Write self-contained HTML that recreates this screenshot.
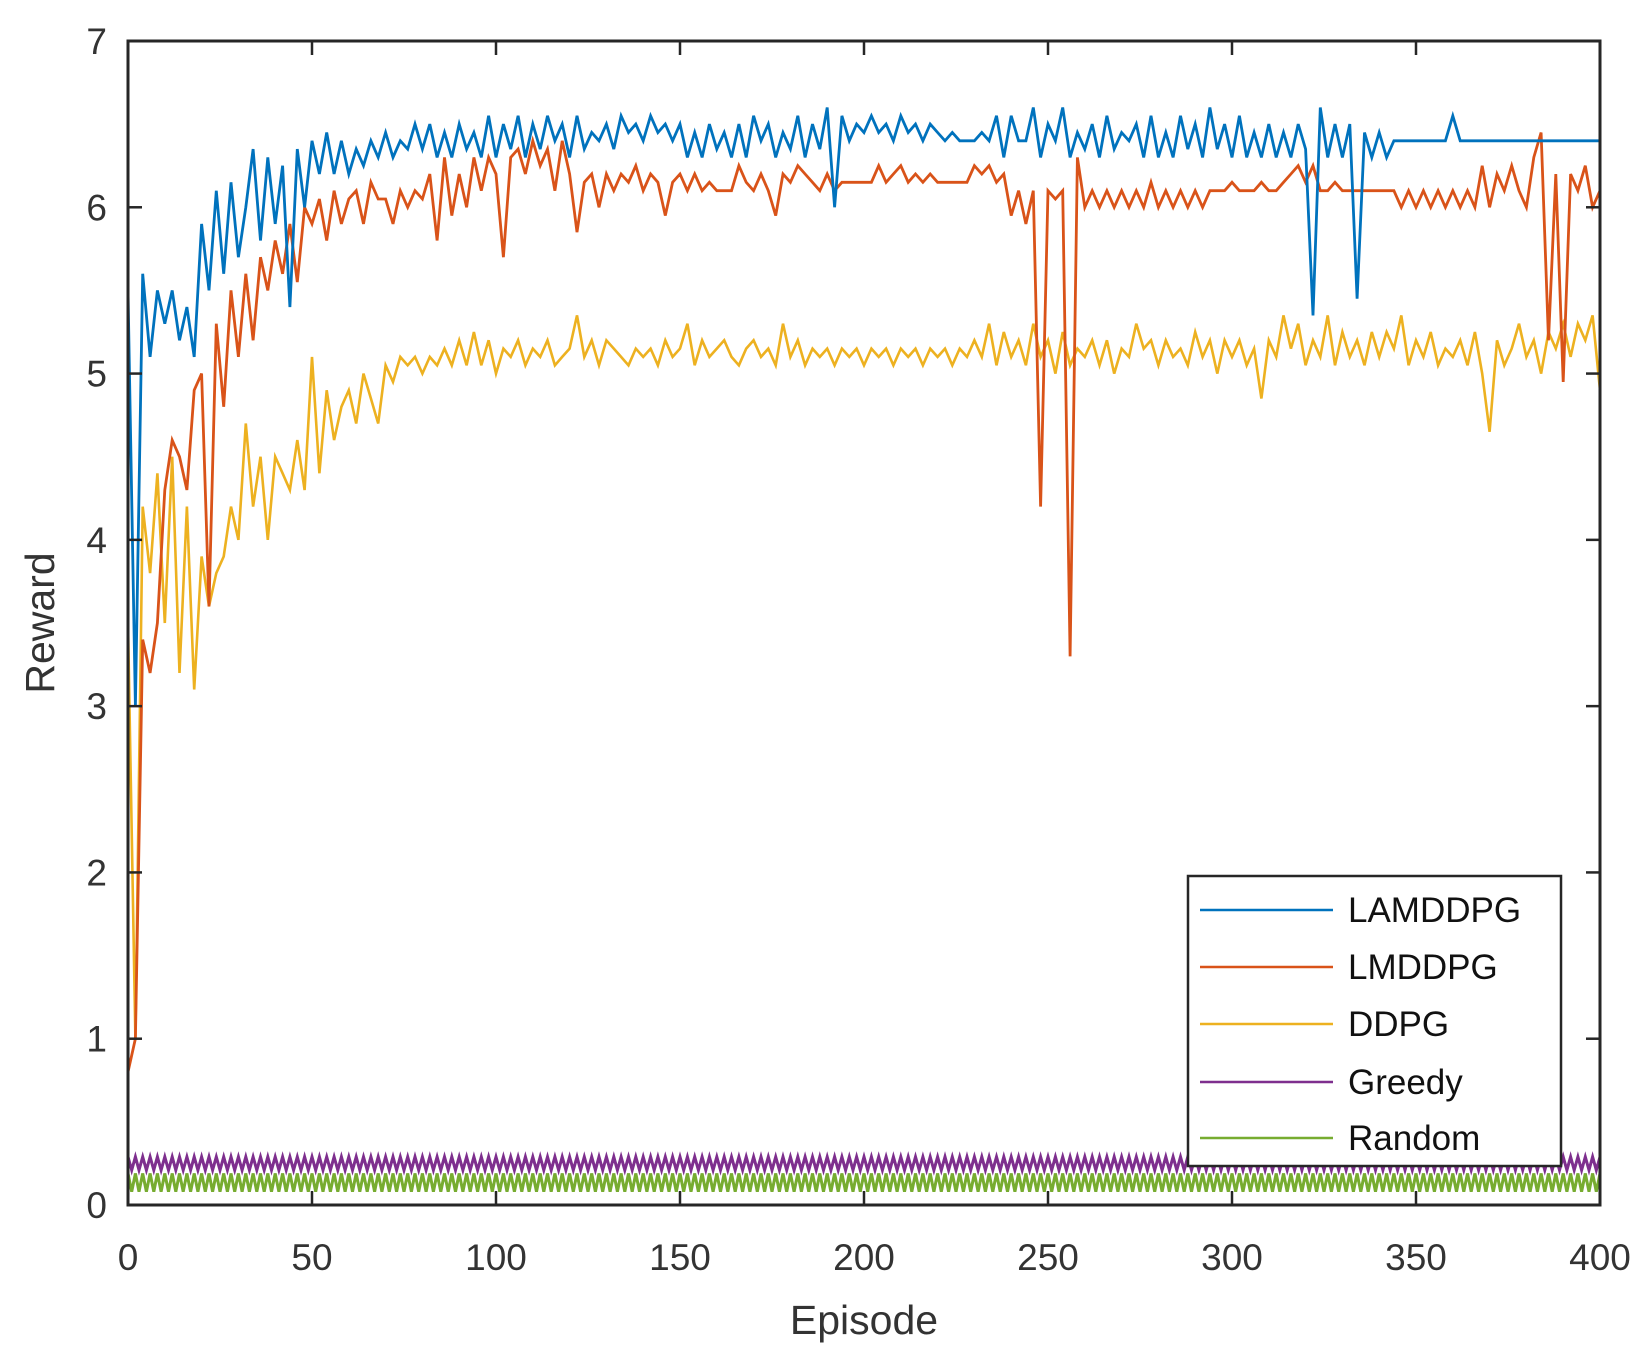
<!DOCTYPE html>
<html><head><meta charset="utf-8">
<style>
html,body{margin:0;padding:0;background:#fff;}
svg{display:block;font-family:"Liberation Sans",Arial,sans-serif;}
</style></head>
<body>
<svg id="chart" width="1647" height="1354" viewBox="0 0 1647 1354" xmlns="http://www.w3.org/2000/svg">
<rect x="0" y="0" width="1647" height="1354" fill="#fff"/>
<g id="series"></g>
<g id="axes"></g>
<g id="legend"></g>
</svg>
<script>
const xTicks=[0,50,100,150,200,250,300,350,400];
const yTicks=[0,1,2,3,4,5,6,7];
const seriesNames=["LAMDDPG","LMDDPG","DDPG","Greedy","Random"];
const episodeStep=2;
const baselineStep=1;
const lamddpg=[5.5,3.0,5.6,5.1,5.5,5.3,5.5,5.2,5.4,5.1,
5.9,5.5,6.1,5.6,6.15,5.7,6.0,6.35,5.8,6.3,
5.9,6.25,5.4,6.35,6.0,6.4,6.2,6.45,6.2,6.4,
6.2,6.35,6.25,6.4,6.3,6.45,6.3,6.4,6.35,6.5,
6.35,6.5,6.3,6.45,6.3,6.5,6.35,6.45,6.3,6.55,
6.3,6.5,6.35,6.55,6.3,6.5,6.35,6.55,6.4,6.5,
6.3,6.55,6.35,6.45,6.4,6.5,6.35,6.55,6.45,6.5,
6.4,6.55,6.45,6.5,6.4,6.5,6.3,6.45,6.3,6.5,
6.35,6.45,6.3,6.5,6.3,6.55,6.4,6.5,6.3,6.45,
6.35,6.55,6.3,6.5,6.35,6.6,6.0,6.55,6.4,6.5,
6.45,6.55,6.45,6.5,6.4,6.55,6.45,6.5,6.4,6.5,
6.45,6.4,6.45,6.4,6.4,6.4,6.45,6.4,6.55,6.3,
6.55,6.4,6.4,6.6,6.3,6.5,6.4,6.6,6.3,6.45,
6.35,6.5,6.3,6.55,6.35,6.45,6.4,6.5,6.3,6.55,
6.3,6.45,6.3,6.55,6.35,6.5,6.3,6.6,6.35,6.5,
6.3,6.55,6.3,6.45,6.3,6.5,6.3,6.45,6.3,6.5,
6.35,5.35,6.6,6.3,6.5,6.3,6.5,5.45,6.45,6.3,
6.45,6.3,6.4,6.4,6.4,6.4,6.4,6.4,6.4,6.4,
6.55,6.4,6.4,6.4,6.4,6.4,6.4,6.4,6.4,6.4,
6.4,6.4,6.4,6.4,6.4,6.4,6.4,6.4,6.4,6.4,6.4];
const lmddpg=[0.8,1.0,3.4,3.2,3.5,4.3,4.6,4.5,4.3,4.9,
5.0,3.6,5.3,4.8,5.5,5.1,5.6,5.2,5.7,5.5,
5.8,5.6,5.9,5.55,6.0,5.9,6.05,5.8,6.1,5.9,
6.05,6.1,5.9,6.15,6.05,6.05,5.9,6.1,6.0,6.1,
6.05,6.2,5.8,6.3,5.95,6.2,6.0,6.3,6.1,6.3,
6.2,5.7,6.3,6.35,6.2,6.4,6.25,6.35,6.1,6.4,
6.2,5.85,6.15,6.2,6.0,6.2,6.1,6.2,6.15,6.25,
6.1,6.2,6.15,5.95,6.15,6.2,6.1,6.2,6.1,6.15,
6.1,6.1,6.1,6.25,6.15,6.1,6.2,6.1,5.95,6.2,
6.15,6.25,6.2,6.15,6.1,6.2,6.1,6.15,6.15,6.15,
6.15,6.15,6.25,6.15,6.2,6.25,6.15,6.2,6.15,6.2,
6.15,6.15,6.15,6.15,6.15,6.25,6.2,6.25,6.15,6.2,
5.95,6.1,5.9,6.1,4.2,6.1,6.05,6.1,3.3,6.3,
6.0,6.1,6.0,6.1,6.0,6.1,6.0,6.1,6.0,6.15,
6.0,6.1,6.0,6.1,6.0,6.1,6.0,6.1,6.1,6.1,
6.15,6.1,6.1,6.1,6.15,6.1,6.1,6.15,6.2,6.25,
6.15,6.25,6.1,6.1,6.15,6.1,6.1,6.1,6.1,6.1,
6.1,6.1,6.1,6.0,6.1,6.0,6.1,6.0,6.1,6.0,
6.1,6.0,6.1,6.0,6.25,6.0,6.2,6.1,6.25,6.1,
6.0,6.3,6.45,5.2,6.2,4.95,6.2,6.1,6.25,6.0,6.1];
const ddpg=[3.5,1.0,4.2,3.8,4.4,3.5,4.5,3.2,4.2,3.1,
3.9,3.6,3.8,3.9,4.2,4.0,4.7,4.2,4.5,4.0,
4.5,4.4,4.3,4.6,4.3,5.1,4.4,4.9,4.6,4.8,
4.9,4.7,5.0,4.85,4.7,5.05,4.95,5.1,5.05,5.1,
5.0,5.1,5.05,5.15,5.05,5.2,5.05,5.25,5.05,5.2,
5.0,5.15,5.1,5.2,5.05,5.15,5.1,5.2,5.05,5.1,
5.15,5.35,5.1,5.2,5.05,5.2,5.15,5.1,5.05,5.15,
5.1,5.15,5.05,5.2,5.1,5.15,5.3,5.05,5.2,5.1,
5.15,5.2,5.1,5.05,5.15,5.2,5.1,5.15,5.05,5.3,
5.1,5.2,5.05,5.15,5.1,5.15,5.05,5.15,5.1,5.15,
5.05,5.15,5.1,5.15,5.05,5.15,5.1,5.15,5.05,5.15,
5.1,5.15,5.05,5.15,5.1,5.2,5.1,5.3,5.05,5.25,
5.1,5.2,5.05,5.3,5.1,5.2,5.0,5.25,5.05,5.15,
5.1,5.2,5.05,5.2,5.0,5.15,5.1,5.3,5.15,5.2,
5.05,5.2,5.1,5.15,5.05,5.25,5.1,5.2,5.0,5.2,
5.1,5.2,5.05,5.15,4.85,5.2,5.1,5.35,5.15,5.3,
5.05,5.2,5.1,5.35,5.05,5.25,5.1,5.2,5.05,5.25,
5.1,5.25,5.15,5.35,5.05,5.2,5.1,5.25,5.05,5.15,
5.1,5.2,5.05,5.25,5.0,4.65,5.2,5.05,5.15,5.3,
5.1,5.2,5.0,5.25,5.15,5.3,5.1,5.3,5.2,5.35,4.9];
const greedy=[
0.29,0.21,0.29,0.21,0.29,0.21,0.29,0.21,0.29,0.21,0.29,0.21,0.29,0.21,0.29,0.21,0.29,0.21,0.29,0.21,
0.29,0.21,0.29,0.21,0.29,0.21,0.29,0.21,0.29,0.21,0.29,0.21,0.29,0.21,0.29,0.21,0.29,0.21,0.29,0.21,
0.29,0.21,0.29,0.21,0.29,0.21,0.29,0.21,0.29,0.21,0.29,0.21,0.29,0.21,0.29,0.21,0.29,0.21,0.29,0.21,
0.29,0.21,0.29,0.21,0.29,0.21,0.29,0.21,0.29,0.21,0.29,0.21,0.29,0.21,0.29,0.21,0.29,0.21,0.29,0.21,
0.29,0.21,0.29,0.21,0.29,0.21,0.29,0.21,0.29,0.21,0.29,0.21,0.29,0.21,0.29,0.21,0.29,0.21,0.29,0.21,
0.29,0.21,0.29,0.21,0.29,0.21,0.29,0.21,0.29,0.21,0.29,0.21,0.29,0.21,0.29,0.21,0.29,0.21,0.29,0.21,
0.29,0.21,0.29,0.21,0.29,0.21,0.29,0.21,0.29,0.21,0.29,0.21,0.29,0.21,0.29,0.21,0.29,0.21,0.29,0.21,
0.29,0.21,0.29,0.21,0.29,0.21,0.29,0.21,0.29,0.21,0.29,0.21,0.29,0.21,0.29,0.21,0.29,0.21,0.29,0.21,
0.29,0.21,0.29,0.21,0.29,0.21,0.29,0.21,0.29,0.21,0.29,0.21,0.29,0.21,0.29,0.21,0.29,0.21,0.29,0.21,
0.29,0.21,0.29,0.21,0.29,0.21,0.29,0.21,0.29,0.21,0.29,0.21,0.29,0.21,0.29,0.21,0.29,0.21,0.29,0.21,
0.29,0.21,0.29,0.21,0.29,0.21,0.29,0.21,0.29,0.21,0.29,0.21,0.29,0.21,0.29,0.21,0.29,0.21,0.29,0.21,
0.29,0.21,0.29,0.21,0.29,0.21,0.29,0.21,0.29,0.21,0.29,0.21,0.29,0.21,0.29,0.21,0.29,0.21,0.29,0.21,
0.29,0.21,0.29,0.21,0.29,0.21,0.29,0.21,0.29,0.21,0.29,0.21,0.29,0.21,0.29,0.21,0.29,0.21,0.29,0.21,
0.29,0.21,0.29,0.21,0.29,0.21,0.29,0.21,0.29,0.21,0.29,0.21,0.29,0.21,0.29,0.21,0.29,0.21,0.29,0.21,
0.29,0.21,0.29,0.21,0.29,0.21,0.29,0.21,0.29,0.21,0.29,0.21,0.29,0.21,0.29,0.21,0.29,0.21,0.29,0.21,
0.29,0.21,0.29,0.21,0.29,0.21,0.29,0.21,0.29,0.21,0.29,0.21,0.29,0.21,0.29,0.21,0.29,0.21,0.29,0.21,
0.29,0.21,0.29,0.21,0.29,0.21,0.29,0.21,0.29,0.21,0.29,0.21,0.29,0.21,0.29,0.21,0.29,0.21,0.29,0.21,
0.29,0.21,0.29,0.21,0.29,0.21,0.29,0.21,0.29,0.21,0.29,0.21,0.29,0.21,0.29,0.21,0.29,0.21,0.29,0.21,
0.29,0.21,0.29,0.21,0.29,0.21,0.29,0.21,0.29,0.21,0.29,0.21,0.29,0.21,0.29,0.21,0.29,0.21,0.29,0.21,
0.29,0.21,0.29,0.21,0.29,0.21,0.29,0.21,0.29,0.21,0.29,0.21,0.29,0.21,0.29,0.21,0.29,0.21,0.29,0.21,
0.29];
const random=[
0.19,0.08,0.19,0.08,0.19,0.08,0.19,0.08,0.19,0.08,0.19,0.08,0.19,0.08,0.19,0.08,0.19,0.08,0.19,0.08,
0.19,0.08,0.19,0.08,0.19,0.08,0.19,0.08,0.19,0.08,0.19,0.08,0.19,0.08,0.19,0.08,0.19,0.08,0.19,0.08,
0.19,0.08,0.19,0.08,0.19,0.08,0.19,0.08,0.19,0.08,0.19,0.08,0.19,0.08,0.19,0.08,0.19,0.08,0.19,0.08,
0.19,0.08,0.19,0.08,0.19,0.08,0.19,0.08,0.19,0.08,0.19,0.08,0.19,0.08,0.19,0.08,0.19,0.08,0.19,0.08,
0.19,0.08,0.19,0.08,0.19,0.08,0.19,0.08,0.19,0.08,0.19,0.08,0.19,0.08,0.19,0.08,0.19,0.08,0.19,0.08,
0.19,0.08,0.19,0.08,0.19,0.08,0.19,0.08,0.19,0.08,0.19,0.08,0.19,0.08,0.19,0.08,0.19,0.08,0.19,0.08,
0.19,0.08,0.19,0.08,0.19,0.08,0.19,0.08,0.19,0.08,0.19,0.08,0.19,0.08,0.19,0.08,0.19,0.08,0.19,0.08,
0.19,0.08,0.19,0.08,0.19,0.08,0.19,0.08,0.19,0.08,0.19,0.08,0.19,0.08,0.19,0.08,0.19,0.08,0.19,0.08,
0.19,0.08,0.19,0.08,0.19,0.08,0.19,0.08,0.19,0.08,0.19,0.08,0.19,0.08,0.19,0.08,0.19,0.08,0.19,0.08,
0.19,0.08,0.19,0.08,0.19,0.08,0.19,0.08,0.19,0.08,0.19,0.08,0.19,0.08,0.19,0.08,0.19,0.08,0.19,0.08,
0.19,0.08,0.19,0.08,0.19,0.08,0.19,0.08,0.19,0.08,0.19,0.08,0.19,0.08,0.19,0.08,0.19,0.08,0.19,0.08,
0.19,0.08,0.19,0.08,0.19,0.08,0.19,0.08,0.19,0.08,0.19,0.08,0.19,0.08,0.19,0.08,0.19,0.08,0.19,0.08,
0.19,0.08,0.19,0.08,0.19,0.08,0.19,0.08,0.19,0.08,0.19,0.08,0.19,0.08,0.19,0.08,0.19,0.08,0.19,0.08,
0.19,0.08,0.19,0.08,0.19,0.08,0.19,0.08,0.19,0.08,0.19,0.08,0.19,0.08,0.19,0.08,0.19,0.08,0.19,0.08,
0.19,0.08,0.19,0.08,0.19,0.08,0.19,0.08,0.19,0.08,0.19,0.08,0.19,0.08,0.19,0.08,0.19,0.08,0.19,0.08,
0.19,0.08,0.19,0.08,0.19,0.08,0.19,0.08,0.19,0.08,0.19,0.08,0.19,0.08,0.19,0.08,0.19,0.08,0.19,0.08,
0.19,0.08,0.19,0.08,0.19,0.08,0.19,0.08,0.19,0.08,0.19,0.08,0.19,0.08,0.19,0.08,0.19,0.08,0.19,0.08,
0.19,0.08,0.19,0.08,0.19,0.08,0.19,0.08,0.19,0.08,0.19,0.08,0.19,0.08,0.19,0.08,0.19,0.08,0.19,0.08,
0.19,0.08,0.19,0.08,0.19,0.08,0.19,0.08,0.19,0.08,0.19,0.08,0.19,0.08,0.19,0.08,0.19,0.08,0.19,0.08,
0.19,0.08,0.19,0.08,0.19,0.08,0.19,0.08,0.19,0.08,0.19,0.08,0.19,0.08,0.19,0.08,0.19,0.08,0.19,0.08,
0.19];

const NS="http://www.w3.org/2000/svg";
const L=128,R=1600,T=41,B=1205;
const xMin=0,xMax=400,yMin=0,yMax=7;
function xs(v){return L+(v-xMin)/(xMax-xMin)*(R-L);}
function ys(v){return B-(v-yMin)/(yMax-yMin)*(B-T);}
function mk(tag,attrs,parent){const e=document.createElementNS(NS,tag);for(const k in attrs)e.setAttribute(k,attrs[k]);parent.appendChild(e);return e;}

const colors=["#0072BD","#D95319","#EDB120","#7E2F8E","#77AC30"];
const allSeries=[lamddpg,lmddpg,ddpg,greedy,random];
const steps=[episodeStep,episodeStep,episodeStep,baselineStep,baselineStep];
const widths=["2.8","2.8","2.6","3","3"];
const keys=["lamddpg","lmddpg","ddpg","greedy","random"];
const sg=document.getElementById("series");
const drawOrder=[4,3,2,1,0];
drawOrder.forEach(si=>{
  const arr=allSeries[si];
  const pts=arr.map((v,i)=>xs(i*steps[si]).toFixed(1)+","+ys(v).toFixed(1)).join(" ");
  const pl=mk("polyline",{points:pts,fill:"none",stroke:colors[si],"stroke-width":widths[si],"stroke-linejoin":"miter"},sg);
  
  
});

const ag=document.getElementById("axes");
const box=mk("rect",{x:L,y:T,width:R-L,height:B-T,fill:"none",stroke:"#262626","stroke-width":"3"},ag);


xTicks.forEach(t=>{
  const x=xs(t);
  mk("line",{x1:x,y1:B,x2:x,y2:B-14,stroke:"#262626","stroke-width":"2.5"},ag);
  mk("line",{x1:x,y1:T,x2:x,y2:T+14,stroke:"#262626","stroke-width":"2.5"},ag);
  const tx=mk("text",{x:x,y:1270,"text-anchor":"middle","font-size":"37",fill:"#333"},ag);
  tx.textContent=t;
  
  
});
yTicks.forEach(t=>{
  const y=ys(t);
  mk("line",{x1:L,y1:y,x2:L+14,y2:y,stroke:"#262626","stroke-width":"2.5"},ag);
  mk("line",{x1:R,y1:y,x2:R-14,y2:y,stroke:"#262626","stroke-width":"2.5"},ag);
  const tx=mk("text",{x:107,y:y+13,"text-anchor":"end","font-size":"37",fill:"#333"},ag);
  tx.textContent=t;
  
  
});
const xt=mk("text",{x:(L+R)/2,y:1334,"text-anchor":"middle","font-size":"41",fill:"#333"},ag);
xt.textContent="Episode";


const yt=mk("text",{x:0,y:0,"text-anchor":"middle","font-size":"41",fill:"#333",transform:"translate(54,623) rotate(-90)"},ag);
yt.textContent="Reward";



const lg=document.getElementById("legend");


mk("rect",{x:1188,y:876,width:373,height:290,fill:"#fff",stroke:"#262626","stroke-width":"2.5"},lg);
const legY=[910,967,1024,1082,1138];
seriesNames.forEach((n,i)=>{
  const g=mk("g",{},lg);
  
  
  mk("line",{x1:1200,y1:legY[i],x2:1333,y2:legY[i],stroke:colors[i],"stroke-width":"2.6"},g);
  const tx=mk("text",{x:1348,y:legY[i]+12,"font-size":"35",fill:"#111"},g);
  tx.textContent=n;
});
</script>
</body></html>
